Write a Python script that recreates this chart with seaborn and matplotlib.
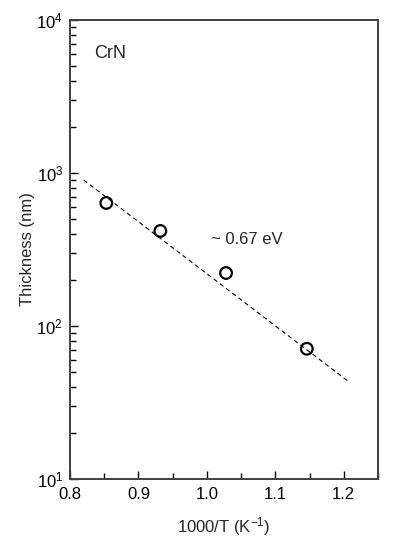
import matplotlib
matplotlib.use("Agg")
import matplotlib.pyplot as plt
import seaborn as sns
import pandas as pd
from matplotlib.ticker import LogLocator, MultipleLocator, NullFormatter

sns.set_style("ticks")
plt.rcParams['font.family'] = ['Liberation Sans', 'DejaVu Sans']
plt.rcParams['mathtext.fontset'] = 'custom'
plt.rcParams['mathtext.rm'] = 'Liberation Sans'
plt.rcParams['mathtext.it'] = 'Liberation Sans:italic'

inv_T = [0.853, 0.932, 1.028, 1.146]
thickness = [637, 418, 222, 71]
fit_x = [0.82, 1.205]
fit_y = [900, 44]

df = pd.DataFrame({"x": inv_T, "y": thickness})
df_fit = pd.DataFrame({"x": fit_x, "y": fit_y})

fig = plt.figure(figsize=(3.96, 5.42), dpi=100)
ax = fig.add_axes([70/396, 1 - 479/542, 308/396, 459/542])

sns.lineplot(data=df_fit, x="x", y="y", ax=ax, color="black", linestyle=(0, (4, 3)), linewidth=0.8)
sns.scatterplot(data=df, x="x", y="y", ax=ax, marker="o", s=70, facecolor="none",
                edgecolor="black", linewidth=1.6, zorder=3)

ax.set_yscale("log")
ax.set_ylim(10, 1e4)
ax.set_xlim(0.8, 1.25)
ax.set_xticks([0.8, 0.9, 1.0, 1.1, 1.2])
ax.set_xticklabels(["0.8", "0.9", "1.0", "1.1", "1.2"])
ax.xaxis.set_minor_locator(MultipleLocator(0.05))
ax.yaxis.set_major_locator(LogLocator(base=10, numticks=10))
ax.yaxis.set_minor_locator(LogLocator(base=10, subs=range(2, 10), numticks=20))
ax.yaxis.set_minor_formatter(NullFormatter())

ax.tick_params(which="both", direction="in", top=False, right=False, labelsize=12, colors="black")
ax.tick_params(which="major", length=6, width=1)
ax.tick_params(which="minor", length=4, width=1)
ax.tick_params(axis="x", pad=6)
ax.tick_params(axis="y", pad=5)
for s in ax.spines.values():
    s.set_linewidth(1.4)
    s.set_color("#404040")

ax.set_xlabel("1000/T (K$^{-1}$)", fontsize=12, labelpad=9)
ax.set_ylabel("Thickness (nm)", fontsize=12, labelpad=1)

ax.text(0.078, 0.926, "CrN", transform=ax.transAxes, fontsize=13, ha="left", va="center")
ax.text(0.458, 0.521, "~ 0.67 eV", transform=ax.transAxes, fontsize=12, ha="left", va="center")

fig.savefig("out.png", dpi=100)
